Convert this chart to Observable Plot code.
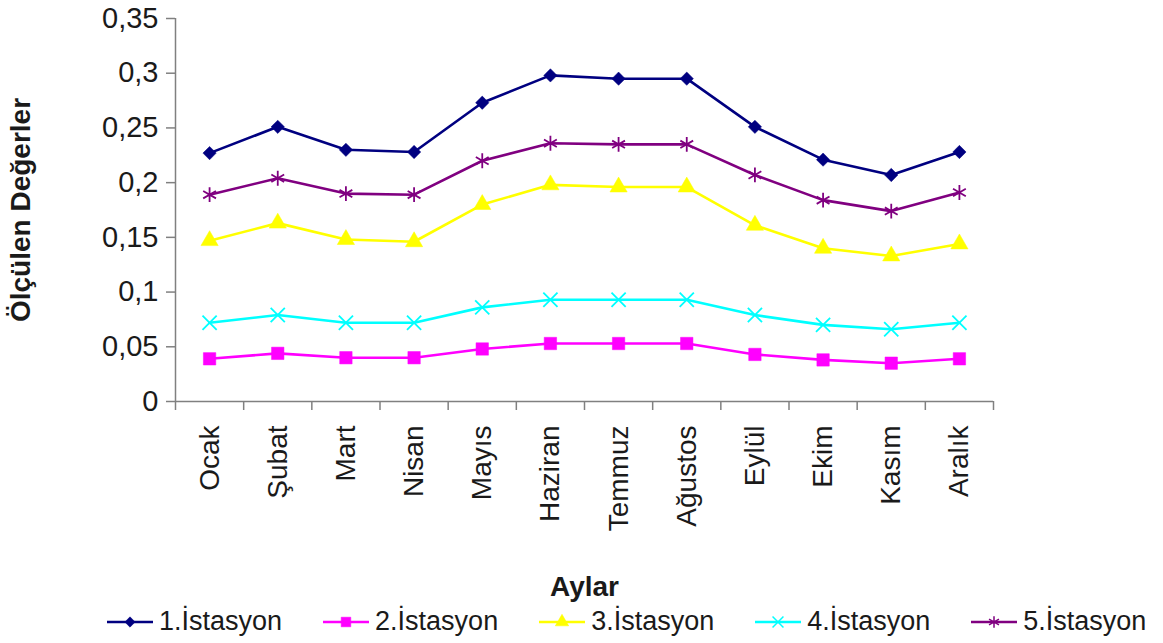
<!DOCTYPE html>
<html>
<head>
<meta charset="utf-8">
<script src="https://cdn.jsdelivr.net/npm/d3@7"></script>
<script src="https://cdn.jsdelivr.net/npm/@observablehq/plot@0.6"></script>
<style>
  body { margin: 0; background: #fff; font-family: "Liberation Sans", Arial, sans-serif; }
  #legend { display: flex; align-items: center; height: 43px; padding-left: 107px; gap: 41px; font-size: 27px; color: #1a1a1a; }
  .item { display: flex; align-items: center; gap: 6px; white-space: nowrap; }
  .item svg { display: block; }
</style>
</head>
<body>
<div id="chart"></div>
<div id="legend"></div>
<script>
// Months (x categories)
const months = ["Ocak", "Şubat", "Mart", "Nisan", "Mayıs", "Haziran", "Temmuz", "Ağustos", "Eylül", "Ekim", "Kasım", "Aralık"];

// Station names (series)
const stations = ["1.İstasyon", "2.İstasyon", "3.İstasyon", "4.İstasyon", "5.İstasyon"];

// Measured values per station, one per month
const station1 = [0.227, 0.251, 0.230, 0.228, 0.273, 0.298, 0.295, 0.295, 0.251, 0.221, 0.207, 0.228];
const station2 = [0.039, 0.044, 0.040, 0.040, 0.048, 0.053, 0.053, 0.053, 0.043, 0.038, 0.035, 0.039];
const station3 = [0.147, 0.163, 0.148, 0.146, 0.180, 0.198, 0.196, 0.196, 0.161, 0.140, 0.133, 0.144];
const station4 = [0.072, 0.079, 0.072, 0.072, 0.086, 0.093, 0.093, 0.093, 0.079, 0.070, 0.066, 0.072];
const station5 = [0.189, 0.204, 0.190, 0.189, 0.220, 0.236, 0.235, 0.235, 0.207, 0.184, 0.174, 0.191];

// Y-axis tick values
const yTicks = [0, 0.05, 0.1, 0.15, 0.2, 0.25, 0.3, 0.35];

// Series styling
const colors = ["#000080", "#ff00ff", "#ffff00", "#00ffff", "#800080"];
const symbols = ["diamond2", "square", "triangle", "times", "asterisk"];
const filled = [true, true, true, false, false];
const markerR = [6, 7, 6.4, 6.5, 7];
const d3Symbols = [d3.symbolDiamond2, d3.symbolSquare, d3.symbolTriangle, d3.symbolTimes, d3.symbolAsterisk];

const series = [station1, station2, station3, station4, station5];
const rows = series.flatMap((vals, s) => vals.map((v, i) => ({i, v, s: stations[s]})));

const axisGray = "#808080";
const comma = d => String(d).replace(".", ",");
const boundaries = months.map((_, i) => i - 0.5).concat(months.length - 0.5);

const chart = Plot.plot({
  width: 1163,
  height: 600,
  marginLeft: 175,
  marginRight: 170,
  marginTop: 18,
  marginBottom: 199,
  style: {fontFamily: "Liberation Sans, Arial, sans-serif", color: "#1a1a1a", background: "#fff", overflow: "visible"},
  x: {type: "linear", domain: [-0.5, months.length - 0.5]},
  y: {domain: [0, 0.35]},
  color: {domain: stations, range: colors},
  marks: [
    // axis lines
    Plot.ruleY([0], {stroke: axisGray, strokeWidth: 1.5}),
    Plot.ruleX([-0.5], {y1: 0, y2: 0.35, stroke: axisGray, strokeWidth: 1.5}),
    // y axis ticks and labels
    Plot.axisY(yTicks, {tickSize: 9, tickPadding: 8, tickFormat: comma, fontSize: 29, stroke: axisGray, strokeWidth: 1.5, label: null}),
    // x axis: ticks between months, month names under each month
    Plot.axisX(boundaries, {tickSize: 9, tickFormat: () => "", stroke: axisGray, strokeWidth: 1.5, label: null}),
    Plot.axisX(months.map((_, i) => i), {tickSize: 0, tickPadding: 24, tickRotate: -90, tickFormat: i => months[i], fontSize: 28, label: null}),
    // axis titles
    Plot.text(["Ölçülen Değerler"], {frameAnchor: "left", textAnchor: "middle", lineAnchor: "middle", rotate: -90, dx: -154, fontSize: 28, fontWeight: "bold"}),
    Plot.text(["Aylar"], {frameAnchor: "bottom", lineAnchor: "middle", dy: 186, fontSize: 28, fontWeight: "bold"}),
    // station lines
    Plot.line(rows, {x: "i", y: "v", z: "s", stroke: "s", strokeWidth: 2.6}),
    // station markers
    ...stations.map((name, s) => Plot.dot(rows.filter(d => d.s === name), {
      x: "i", y: "v",
      symbol: symbols[s],
      r: markerR[s],
      fill: filled[s] ? colors[s] : "none",
      stroke: colors[s],
      strokeWidth: filled[s] ? 0.5 : 1.8
    }))
  ]
});
document.getElementById("chart").append(chart);

// Legend
const legend = d3.select("#legend");
stations.forEach((name, s) => {
  const item = legend.append("div").attr("class", "item");
  const svg = item.append("svg").attr("width", 46).attr("height", 24);
  svg.append("line").attr("x1", 0).attr("x2", 46).attr("y1", 12).attr("y2", 12)
    .attr("stroke", colors[s]).attr("stroke-width", 2.4);
  const size = Math.PI * markerR[s] * markerR[s] * 0.6;
  svg.append("path")
    .attr("d", d3.symbol(d3Symbols[s], size)())
    .attr("transform", "translate(23,12)")
    .attr("fill", filled[s] ? colors[s] : "none")
    .attr("stroke", colors[s])
    .attr("stroke-width", filled[s] ? 0.5 : 1.5);
  item.append("span").text(name);
});
</script>
</body>
</html>
